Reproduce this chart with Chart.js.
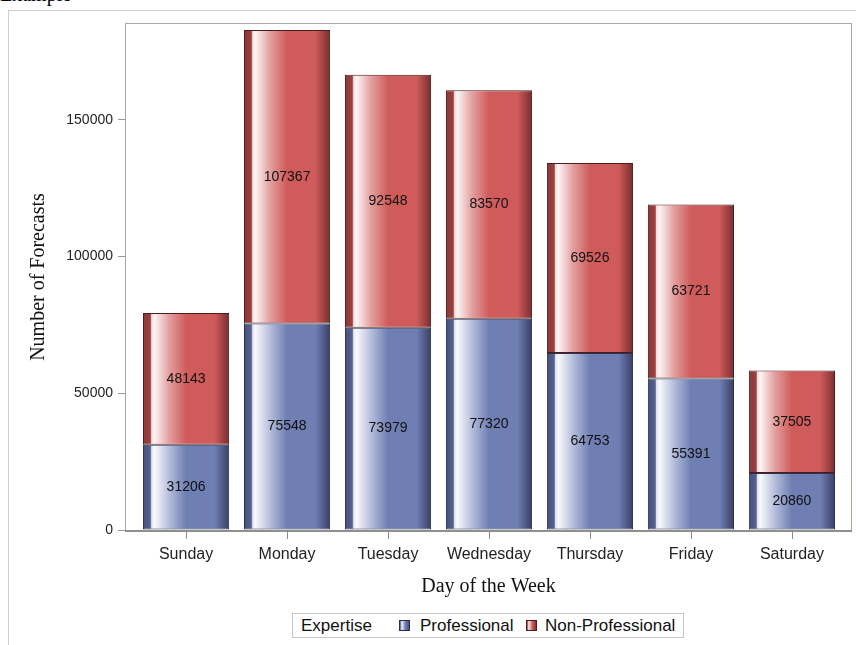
<!DOCTYPE html>
<html><head><meta charset="utf-8">
<script src="https://cdn.jsdelivr.net/npm/chart.js@4/dist/chart.umd.min.js"></script>
<style>
html,body{margin:0;padding:0;background:#fff;width:856px;height:645px;overflow:hidden;}
#wrap{position:relative;width:856px;height:645px;overflow:hidden;}
#hdr{position:absolute;left:0;top:-16px;font:20px "Liberation Serif";line-height:20px;color:#000;white-space:nowrap;}
#frame{position:absolute;left:8px;top:10px;width:900px;height:700px;border:1px solid #cfcfcf;}
#c{position:absolute;left:0;top:0;}
#legend{position:absolute;left:292px;top:613px;width:390px;height:23px;border:1px solid #c8c8c8;font:17px "Liberation Sans";color:#111;background:#fff;}
.item{position:absolute;top:0;line-height:23px;white-space:nowrap;}
.sw{position:absolute;top:6px;width:9px;height:9px;border:1px solid #333;}
</style>
</head>
<body>
<div id="wrap">
  <div id="hdr">Example</div>
  <div id="frame"></div>
  <canvas id="c" width="856" height="645"></canvas>
  <div id="legend"></div>
</div>
<script>
const days = ['Sunday','Monday','Tuesday','Wednesday','Thursday','Friday','Saturday'];
const professional = [31206, 75548, 73979, 77320, 64753, 55391, 20860];
const nonProfessional = [48143, 107367, 92548, 83570, 69526, 63721, 37505];
const yTickValues = [0, 50000, 100000, 150000];
const seriesNames = ['Professional', 'Non-Professional'];
const legendTitle = 'Expertise';
const xTitle = 'Day of the Week';
const yTitle = 'Number of Forecasts';

const BAR_PCT = 0.853;
const blueStops = [[0,'rgb(70,80,124)'],[0.085,'rgb(86,97,142)'],[0.1,'rgb(222,226,240)'],[0.13,'rgb(250,250,253)'],[0.3,'rgb(182,190,219)'],[0.5,'rgb(111,126,179)'],[0.83,'rgb(111,126,179)'],[1,'rgb(56,64,100)']];
const redStops = [[0,'rgb(140,56,56)'],[0.085,'rgb(156,64,64)'],[0.1,'rgb(242,220,220)'],[0.13,'rgb(253,246,246)'],[0.3,'rgb(228,160,160)'],[0.5,'rgb(208,91,91)'],[0.83,'rgb(208,91,91)'],[1,'rgb(120,46,46)']];

function makeGrad(stops, fallback) {
  return function(ctx) {
    const chart = ctx.chart, xs = chart.scales.x;
    if (!chart.chartArea || !xs || ctx.type !== 'data') return fallback;
    const xv = ctx.raw && ctx.raw.x !== undefined ? ctx.raw.x : ctx.dataIndex;
    const cx = xs.getPixelForValue(xv);
    const w = (xs.getPixelForValue(1) - xs.getPixelForValue(0)) * BAR_PCT;
    if (!isFinite(cx) || !isFinite(w)) return fallback;
    const g = chart.ctx.createLinearGradient(cx - w/2, 0, cx + w/2, 0);
    stops.forEach(([o,c]) => g.addColorStop(o,c));
    return g;
  };
}

const labelPlugin = {
  id: 'segLabels',
  afterDatasetsDraw(chart) {
    const c = chart.ctx;
    c.save();
    c.font = '14px "Liberation Sans"';
    c.fillStyle = '#111';
    c.textAlign = 'center';
    c.textBaseline = 'middle';
    chart.data.datasets.forEach((ds, di) => {
      chart.getDatasetMeta(di).data.forEach((el, i) => {
        c.fillText(String(ds.data[i].y), el.x, (el.y + el.base) / 2);
      });
    });
    c.restore();
  }
};

const framePlugin = {
  id: 'plotFrame',
  afterDraw(chart) {
    const c = chart.ctx, a = chart.chartArea, xs = chart.scales.x;
    const l = Math.round(a.left), t = Math.round(a.top), r = Math.round(a.right), b = Math.round(a.bottom);
    c.save();
    c.strokeStyle = '#a8a8a8';
    c.lineWidth = 1;
    c.strokeRect(l - 0.5, t - 0.5, r - l + 1, b - t + 1);
    c.strokeStyle = '#8f8f8f';
    c.lineWidth = 2;
    c.beginPath(); c.moveTo(l - 1, b + 1); c.lineTo(r + 1, b + 1); c.stroke();
    // category tick marks below the axis, at the scale's tick positions
    c.strokeStyle = '#8a8a8a';
    c.lineWidth = 1;
    for (let i = 0; i < days.length; i++) {
      const px = Math.round(xs.getPixelForValue(i)) + 0.5;
      c.beginPath();
      c.moveTo(px, b + 1);
      c.lineTo(px, b + 9);
      c.stroke();
    }
    c.restore();
  }
};

new Chart(document.getElementById('c'), {
  type: 'bar',
  data: {
    datasets: [
      {
        label: seriesNames[0],
        data: professional.map((v, i) => ({x: i, y: v})),
        backgroundColor: makeGrad(blueStops, 'rgb(111,126,179)'),
        borderColor: '#2a3050',
        borderWidth: 1,
        borderSkipped: false,
        barPercentage: BAR_PCT,
        categoryPercentage: 1
      },
      {
        label: seriesNames[1],
        data: nonProfessional.map((v, i) => ({x: i, y: v})),
        backgroundColor: makeGrad(redStops, 'rgb(208,91,91)'),
        borderColor: '#4a1c1c',
        borderWidth: 1,
        borderSkipped: false,
        barPercentage: BAR_PCT,
        categoryPercentage: 1
      }
    ]
  },
  options: {
    responsive: false,
    animation: false,
    layout: { padding: { top: 24, right: 5, left: 0, bottom: 0 } },
    plugins: { legend: { display: false }, tooltip: { enabled: false } },
    scales: {
      x: {
        type: 'linear', stacked: true, bounds: 'data',
        min: -0.595, max: 6.585, offset: false,
        afterBuildTicks: s => { s.ticks = days.map((d, i) => ({value: i})); },
        afterFit: s => { s.height = 115; },
        ticks: {
          callback: v => days[v], autoSkip: false, maxRotation: 0, minRotation: 0,
          padding: 15, font: { family: 'Liberation Sans', size: 16 }, color: '#222'
        },
        grid: { display: false, drawOnChartArea: false, drawTicks: false },
        border: { display: false },
        title: { display: true, text: xTitle, font: { family: 'Liberation Serif', size: 20 }, color: '#111', padding: { top: 0, bottom: 46 } }
      },
      y: {
        type: 'linear', stacked: true, bounds: 'data',
        min: 0, max: 185100,
        afterBuildTicks: s => { s.ticks = yTickValues.map(v => ({value: v})); },
        afterFit: s => { s.width = 126; },
        ticks: {
          callback: v => String(v), padding: 5,
          font: { family: 'Liberation Sans', size: 14 }, color: '#222'
        },
        grid: { drawOnChartArea: false, drawTicks: true, tickLength: 8, color: '#9a9a9a' },
        border: { display: false },
        title: { display: true, text: yTitle, font: { family: 'Liberation Serif', size: 20 }, color: '#111', padding: { top: 27, bottom: 0 } }
      }
    }
  },
  plugins: [framePlugin, labelPlugin]
});

// HTML legend built from series names
const lg = document.getElementById('legend');
const swatchCss = [
  'linear-gradient(90deg, rgb(70,80,124) 0%, rgb(240,242,250) 20%, rgb(111,126,179) 60%, rgb(70,80,124) 100%)',
  'linear-gradient(90deg, rgb(140,56,56) 0%, rgb(250,235,235) 20%, rgb(208,91,91) 60%, rgb(130,50,50) 100%)'
];
const parts = [
  { cls: 'item', left: 8, text: legendTitle },
  { cls: 'sw', left: 106, bg: swatchCss[0], bc: '#2a3050' },
  { cls: 'item', left: 127, text: seriesNames[0] },
  { cls: 'sw', left: 233, bg: swatchCss[1], bc: '#4a1c1c' },
  { cls: 'item', left: 252, text: seriesNames[1] }
];
parts.forEach(p => {
  const e = document.createElement('span');
  e.className = p.cls;
  e.style.left = p.left + 'px';
  if (p.text) e.textContent = p.text;
  if (p.bg) { e.style.background = p.bg; e.style.borderColor = p.bc; }
  lg.appendChild(e);
});
</script>
</body></html>
